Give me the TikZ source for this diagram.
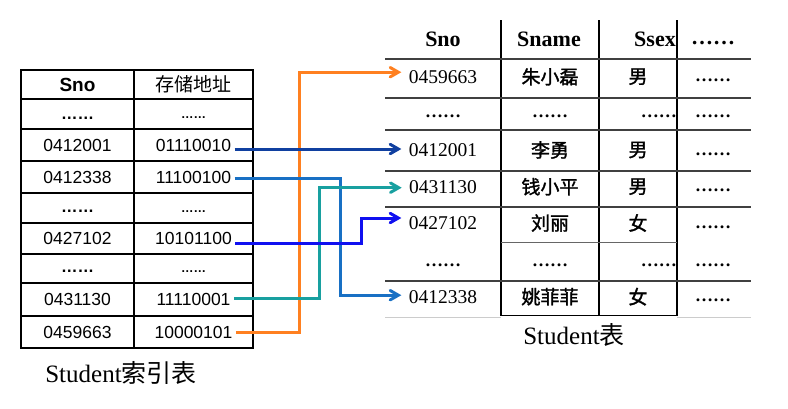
\documentclass[tikz,border=0pt]{standalone}
\usepackage{fontspec}
\setmainfont{Liberation Serif}
\newfontfamily\sansf{Liberation Sans}
\newfontfamily\cjk{Noto Sans CJK SC}
\newfontfamily\cjkb{Noto Sans CJK SC}[FakeBold=1.5]
\usetikzlibrary{arrows}
\definecolor{lnOrange}{RGB}{255,128,32}
\definecolor{lnNavy}{RGB}{16,64,160}
\definecolor{lnSky}{RGB}{24,112,196}
\definecolor{lnTeal}{RGB}{24,160,160}
\definecolor{lnBlue}{RGB}{16,16,240}
\tikzset{
  ixtxt/.style={font=\sansf\fontsize{17.5}{20}\selectfont},
  ixhead/.style={font=\sansf\bfseries\fontsize{19}{22}\selectfont},
  ixcjk/.style={font=\cjk\fontsize{19}{22}\selectfont},
  ixdots/.style={font=\sansf\bfseries\fontsize{16.5}{20}\selectfont},
  ixdotsm/.style={font=\sansf\bfseries\fontsize{12.5}{15}\selectfont},
  sttxt/.style={font=\fontsize{19.5}{22}\selectfont},
  sthead/.style={font=\bfseries\fontsize{22}{25}\selectfont},
  stcjk/.style={font=\cjkb\fontsize{19}{22}\selectfont},
  stdots/.style={font=\bfseries\fontsize{18}{20}\selectfont},
  caption/.style={font=\fontsize{25}{28}\selectfont},
  grid/.style={line width=1.2pt},
  rowline/.style={line width=1.4pt,black!75},
  link/.style={line width=3pt,->,shorten >=4pt}
}
\begin{document}
\begin{tikzpicture}[x=1pt,y=-1pt,>=angle 60]
  \useasboundingbox (0,0) rectangle (788,408);
  %Indextabelle
  \draw[grid] (21,70) rectangle (253,348);
  \draw[grid] (134,70) -- (134,348);
  \foreach \y in {99,129,161,193,223,254,283,316}
    \draw[grid] (21,\y) -- (253,\y);
  \node[ixhead] (ih1) at (77.5,84.5) {Sno};
  \node[ixcjk] (ih2) at (193.5,84.5) {存储地址};
  \foreach \i/\y/\sno/\adr in {2/145/0412001/01110010,3/177/0412338/11100100,5/238.5/0427102/10101100,7/299.5/0431130/11110001,8/332/0459663/10000101}{
    \node[ixtxt] (sn\i) at (77.5,\y) {\sno};
    \node[ixtxt] (ad\i) at (193.5,\y) {\adr};
  }
  \foreach \i/\y in {1/118,4/211.5,6/271.5}{
    \node[ixdots] (sn\i) at (77.5,\y) {……};
    \node[ixdotsm] (ad\i) at (193.5,\y) {……};
  }
  \node[caption] (ixcap) at (121,373) {Student{\cjk 索引表}};
  %Studenttabelle
  \foreach \x in {501,599,677}
    \draw[grid] (\x,20) -- (\x,316);
  \foreach \y in {59,98,130,171,207,281}
    \draw[rowline] (385,\y) -- (751,\y);
  \draw[line width=0.8pt,black!60] (501,242) -- (677,242);
  \draw[grid] (501,315.5) -- (677,315.5);
  \draw[line width=1pt,black!20] (385,317) -- (501,317) (677,317) -- (751,317);
  \node[sthead] (sh1) at (443,39) {Sno};
  \node[sthead] (sh2) at (549,39) {Sname};
  \node[sthead,anchor=east,inner sep=1pt] (sh3) at (677,39) {Ssex};
  \node[sthead] (sh4) at (713,43) {……};
  \foreach \i/\y/\sno/\sname/\ssex in {1/76.7/0459663/朱小磊/男,3/150/0412001/李勇/男,4/186.7/0431130/钱小平/男,5/223/0427102/刘丽/女,7/296.7/0412338/姚菲菲/女}{
    \node[sttxt] (s\i) at (443,\y) {\sno};
    \node[stcjk] (nm\i) at (550,\y) {\sname};
    \node[stcjk] (sx\i) at (638,\y) {\ssex};
    \node[stdots] (r\i) at (713,\y+4) {……};
  }
  \foreach \i/\y in {2/116.7,6/265}{
    \node[stdots] (s\i) at (443,\y) {……};
    \node[stdots] (nm\i) at (550,\y) {……};
    \node[stdots,anchor=east,inner sep=0pt] (sx\i) at (677,\y) {……};
    \node[stdots] (r\i) at (713,\y) {……};
  }
  \node[caption] (stcap) at (574,335) {Student{\cjk 表}};
  %Verweise
  \coordinate (kOrange) at (299,0);
  \coordinate (kSky) at (340,0);
  \coordinate (kTeal) at (319,0);
  \coordinate (kBlue) at (361,0);
  \draw[link,lnOrange] (ad8.east) -- (ad8.east -| kOrange) |- ([yshift=4.5pt]s1.west);
  \draw[link,lnNavy] ([yshift=-4pt]ad2.east) -- ([yshift=-4pt]ad2.east -| s3.west);
  \draw[link,lnSky] ([yshift=-1pt]ad3.east) -- ([yshift=-1pt]ad3.east -| kSky) |- ([yshift=1.5pt]s7.west);
  \draw[link,lnTeal] ([yshift=1pt]ad7.east) -- ([yshift=1pt]ad7.east -| kTeal) |- ([yshift=-1pt]s4.west);
  \draw[link,lnBlue] ([yshift=-4.5pt]ad5.east) -- ([yshift=-4.5pt]ad5.east -| kBlue) |- ([yshift=5pt]s5.west);
\end{tikzpicture}
\end{document}
